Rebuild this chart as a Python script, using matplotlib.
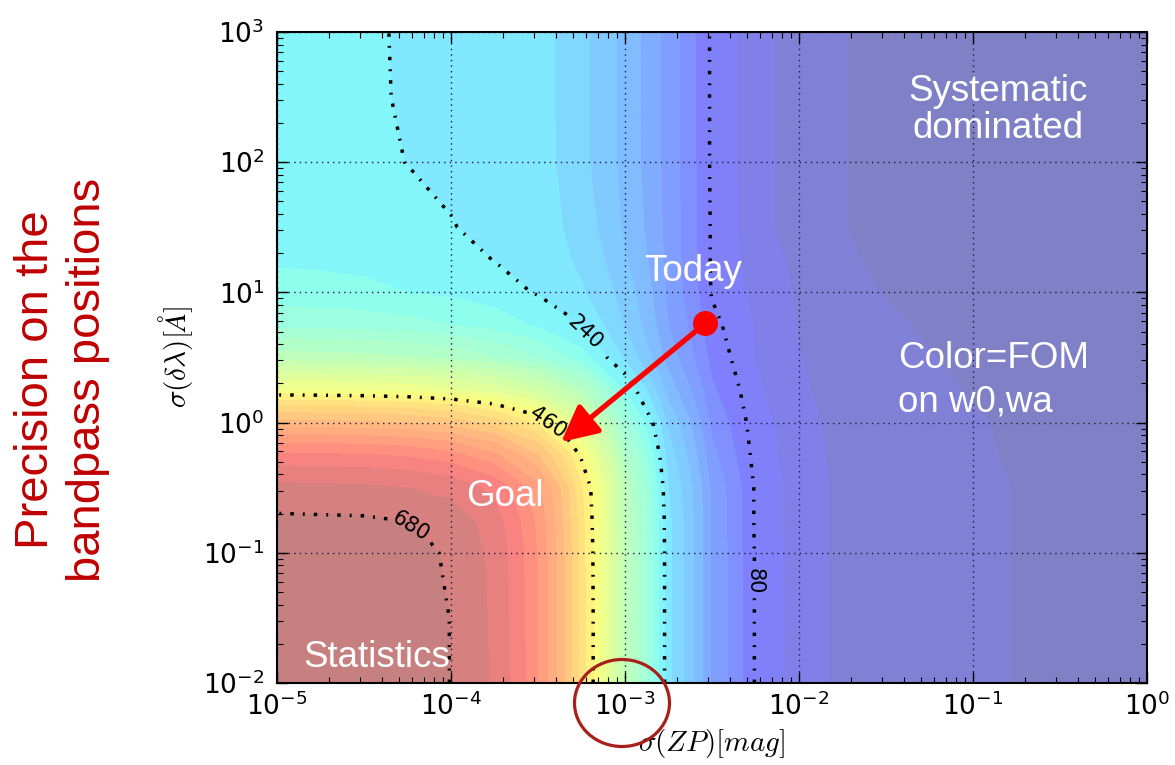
import numpy as np
import matplotlib
matplotlib.use("Agg")
import matplotlib.pyplot as plt
from matplotlib.colors import ListedColormap
from matplotlib.patches import Ellipse

# sampling nodes: log10 sigma(ZP) [mag] and log10 sigma(dlambda) [A]
log_zp = np.linspace(-5, 0, 21)
log_dlam = [-2, -1.5, -1, -0.75, -0.5, -0.25, 0, 0.25, 0.5, 0.75, 1, 1.25, 1.5, 2, 2.5, 3]

# FOM on w0,wa at each node (rows follow log_dlam, columns follow log_zp)
fom = [
    [695, 694, 693, 690, 679.5, 656, 600, 489, 354, 225, 137, 78, 45, 37, 31, 27, 23, 19.5, 17.5, 15.6, 14],
    [694, 693, 692, 689, 679.5, 655, 600, 489, 354, 225, 137, 78, 45, 37, 31, 27, 23, 19.5, 17.5, 15.6, 14],
    [691, 690, 688, 686, 677, 653, 598, 488, 354, 225, 137, 78, 45, 37, 31, 27, 23, 19.5, 17.5, 15.6, 14],
    [683, 682.5, 682, 679, 670, 648, 594, 486, 352, 224, 136, 77, 45, 37, 31, 27, 23, 19.5, 17.5, 15.6, 14],
    [665, 664, 663, 660, 652, 633, 585, 482, 350, 220, 135, 77, 45, 37, 31, 27, 23, 19.5, 17.5, 15.6, 14],
    [624, 623, 621, 617, 606, 583, 540, 455, 330, 210, 125, 72, 45, 36, 30.5, 26, 21.5, 18.5, 16.5, 14.5, 13],
    [546, 545, 543, 539, 530, 510, 472, 405, 300, 195, 115, 68, 44, 35, 29.5, 25, 21, 18, 15.5, 13.5, 12],
    [440, 439, 437, 433, 425, 410, 385, 340, 258, 170, 103, 63, 42, 33, 27, 22.5, 19, 16.5, 14.5, 12.5, 11],
    [348, 347, 345, 341, 334, 320, 300, 267, 215, 150, 92, 59, 40.5, 31, 25, 20.5, 17, 14.5, 12.5, 11, 10],
    [293, 292, 290, 286, 280, 270, 256, 237, 198, 140, 85, 58, 38.5, 28.5, 22, 18, 15, 12.5, 11, 10, 9.5],
    [267, 266, 264, 260, 255, 248, 238, 222, 190, 135, 78, 52, 37, 25, 19, 15, 12, 10.5, 9.5, 9, 8.5],
    [257, 256, 254, 251, 246, 239.5, 232, 215, 182, 133, 77, 48, 35, 22, 16.5, 13, 11, 10, 9, 8.5, 8],
    [252, 251, 249, 246, 240.5, 236, 230, 210, 176, 132, 77, 44, 33, 20.5, 15, 12, 10.5, 9.5, 9, 8.5, 8],
    [250, 248, 245, 239.5, 236, 232.5, 227.5, 205, 172, 131, 76, 44, 33, 20.5, 15, 12, 10.5, 9.5, 9, 8.5, 8],
    [249.5, 246.5, 242.5, 238, 235, 232, 227, 205, 172, 131, 76, 44, 33, 20.5, 15, 12, 10.5, 9.5, 9, 8.5, 8],
    [249, 246, 242, 238, 235, 232, 227, 205, 172, 131, 76, 44, 33, 20.5, 15, 12, 10.5, 9.5, 9, 8.5, 8],
]

fill_levels = np.arange(0, 701, 20)
line_levels = [80, 240, 460, 680]
label_spots = [(5.9e-4, 4.97), (3.8e-4, 1.08), (5.8e-5, 0.158), (5.4e-3, 0.06)]

today = (2.9e-3, 5.8)
goal = (4.3e-4, 0.71)

zp = 10 ** log_zp
dlam = 10 ** np.array(log_dlam)
z = np.array(fom)

# jet washed out to half strength over white
jet = plt.get_cmap('jet')(np.linspace(0, 1, 256))
pale_jet = ListedColormap(0.5 * jet[:, :3] + 0.5)

fig = plt.figure(figsize=(11.75, 7.65), dpi=100)
ax = fig.add_axes([277 / 1175, 82 / 765, 870 / 1175, 651 / 765])
ax.set_xscale('log')
ax.set_yscale('log')

ax.contourf(zp, dlam, z, levels=fill_levels, cmap=pale_jet)

# heavy dash-dot: square dot, gap, short dash, gap
cs = ax.contour(zp, dlam, z, levels=line_levels, colors='k',
                linewidths=2.5, linestyles=[(0, (1, 2.6, 0.55, 2.6))])
ax.clabel(cs, fmt='%d', fontsize=15, inline=True, inline_spacing=6,
          manual=label_spots)

ax.set_xlim(1e-5, 1)
ax.set_ylim(1e-2, 1e3)
ax.grid(True, which='major', color='#1a1a40', linestyle=(0, (1, 3)), linewidth=1)
ax.tick_params(which='both', direction='in', top=True, right=True)
ax.tick_params(which='major', length=8, width=1, labelsize=19)
ax.tick_params(axis='x', which='major', pad=7)
ax.tick_params(axis='y', which='major', pad=9)
ax.tick_params(which='minor', length=4, width=0.8)
for s in ax.spines.values():
    s.set_linewidth(1.5)

ax.set_xlabel(r'$\sigma(ZP)[mag]$', fontsize=21, math_fontfamily='cm')
ax.set_ylabel(r'$\sigma(\delta\lambda)[\AA]$', fontsize=21, math_fontfamily='cm')
ax.xaxis.set_label_coords(0.5, -0.068)
ax.yaxis.set_label_coords(-0.094, 0.5)

# slide annotations
note = dict(color='white', fontsize=26.5, family='Liberation Sans')
ax.text(0.139, 252, 'Systematic\ndominated', ha='center', va='center',
        linespacing=1.1, **note)
ax.text(2.46e-3, 14.4, 'Today', ha='center', va='center', **note)
ax.text(0.0371, 2.12, 'Color=FOM\non w0,wa', ha='left', va='center',
        linespacing=1.3, **note)
ax.text(2.04e-4, 0.269, 'Goal', ha='center', va='center', **note)
ax.text(3.76e-5, 0.0158, 'Statistics', ha='center', va='center', **note)

ax.annotate('', xy=goal, xytext=today,
            arrowprops=dict(arrowstyle='-|>,head_length=1.1,head_width=0.55',
                            mutation_scale=20, color='red', lw=3.8,
                            shrinkA=0, shrinkB=0), zorder=6)
ax.plot(*today, 'o', color='red', ms=17, zorder=7)

fig.add_artist(Ellipse((622 / 1175, 1 - 703 / 765), 95 / 1175, 87 / 765,
                       transform=fig.transFigure, fill=False,
                       edgecolor='#A8201A', linewidth=2.3))

fig.text(62 / 1175, 1 - 380 / 765, 'Precision on the\nbandpass positions',
         rotation=90, ha='center', va='center', multialignment='center',
         fontsize=34, color='#C00000', family='Liberation Sans',
         linespacing=1.25)

fig.savefig('out.png', dpi=100)
